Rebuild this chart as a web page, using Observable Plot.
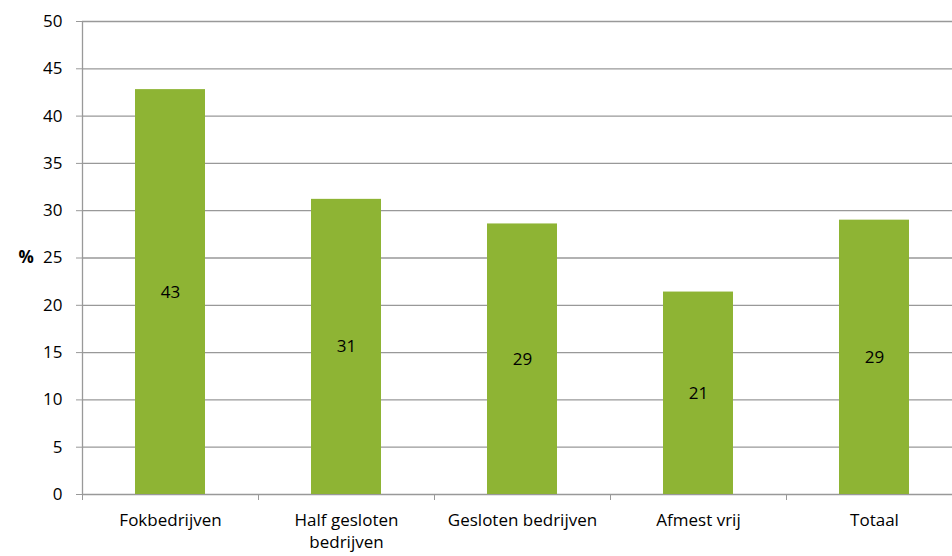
<!DOCTYPE html>
<html>
<head>
<meta charset="utf-8">
<script src="https://cdn.jsdelivr.net/npm/d3@7"></script>
<script src="https://cdn.jsdelivr.net/npm/@observablehq/plot@0.6"></script>
<style>
  html, body { margin: 0; padding: 0; background: #fff; }
  svg { display: block; }
</style>
</head>
<body>
<div id="chart"></div>
<script>
const categories = ["Fokbedrijven", "Half gesloten bedrijven", "Gesloten bedrijven", "Afmest vrij", "Totaal"];
const tickLabels = ["Fokbedrijven", "Half gesloten\nbedrijven", "Gesloten bedrijven", "Afmest vrij", "Totaal"];
const values = [42.8, 31.2, 28.6, 21.4, 29.0];
const labels = ["43", "31", "29", "21", "29"];
const yTicks = [0, 5, 10, 15, 20, 25, 30, 35, 40, 45, 50];

const data = categories.map((c, i) => ({cat: c, value: values[i], label: labels[i]}));
const font = "'Open Sans', sans-serif";

const chart = Plot.plot({
  width: 952,
  height: 556,
  marginLeft: 82,
  marginRight: 0,
  marginTop: 21,
  marginBottom: 62,
  style: {fontFamily: font, fontSize: "17px", color: "#000", background: "#fff"},
  x: {domain: categories, range: [82, 962], paddingInner: 0.6, paddingOuter: 0.3, axis: null},
  y: {domain: [0, 50], axis: null},
  marks: [
    Plot.gridY(yTicks, {stroke: "#999", strokeOpacity: 1, strokeWidth: 1.3}),
    Plot.barY(data, {x: "cat", y: "value", fill: "#8eb434"}),
    Plot.text(data, {x: "cat", y: d => d.value / 2, text: "label", fill: "#000", fontSize: 17}),
    Plot.ruleX([categories[0]], {y1: 0, y2: 50, dx: -88, stroke: "#999", strokeWidth: 1.3}),
    Plot.axisY({ticks: yTicks, tickSize: 6, tickPadding: 14, stroke: "#999", fontSize: 17, label: null}),
    Plot.axisX({tickSize: 6, tickFormat: () => "", dx: -88, stroke: "#999", label: null}),
    Plot.axisX({tickSize: 0, tickPadding: 16, tickFormat: (d) => tickLabels[categories.indexOf(d)], lineHeight: 1.28, fontSize: 17, label: null}),
    Plot.text(["%"], {frameAnchor: "left", dx: -64, fontWeight: "bold", fontSize: 17, text: d => d})
  ]
});
document.getElementById("chart").appendChild(chart);
</script>
</body>
</html>
